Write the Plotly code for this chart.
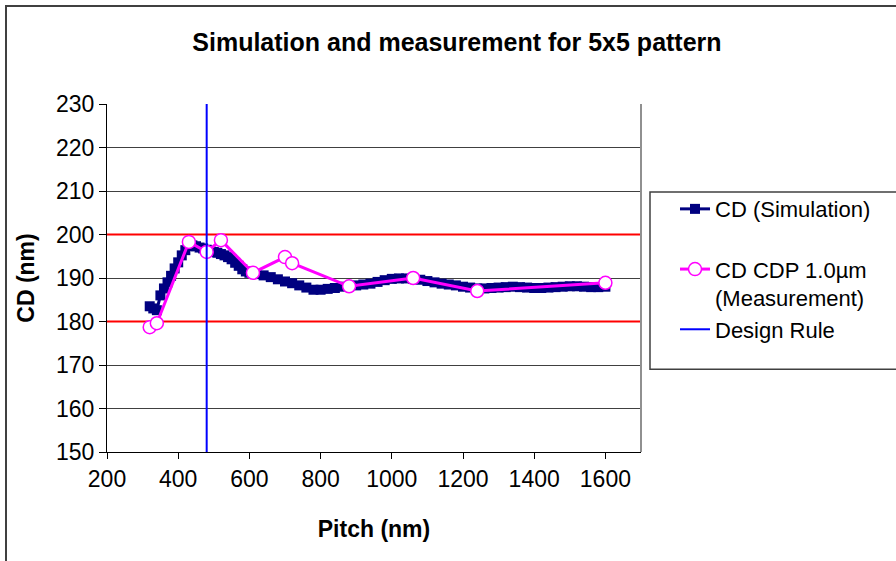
import plotly.graph_objects as go

# ---- data ----
sim_pitch = [320, 330, 340, 350, 360, 370, 380, 390, 400, 410, 420, 430, 440, 450, 460, 470, 480, 490,
             500, 510, 520, 530, 540, 550, 560, 570, 580, 590, 600, 620, 640, 660, 680, 700, 720, 740,
             760, 780, 800, 820, 840, 860, 880, 900, 920, 940, 960, 980, 1000, 1020, 1040, 1060, 1080,
             1100, 1120, 1140, 1160, 1180, 1200, 1220, 1240, 1260, 1280, 1300, 1320, 1340, 1360, 1380,
             1400, 1420, 1440, 1460, 1480, 1500, 1520, 1540, 1560, 1580, 1600]
sim_cd = [183.5, 183.0, 182.6, 186.0, 187.6, 189.0, 190.5, 192.2, 193.6, 195.2, 196.4, 197.3, 197.5,
          197.3, 197.0, 196.8, 196.5, 196.3, 196.0, 195.8, 195.5, 195.2, 194.8, 194.3, 193.5, 192.8,
          192.0, 191.5, 191.2, 190.9, 190.6, 190.2, 189.7, 189.2, 188.8, 188.3, 187.8, 187.3, 187.3,
          187.5, 187.7, 188.0, 188.1, 188.3, 188.5, 188.7, 189.1, 189.5, 189.8, 189.9, 189.9, 189.8,
          189.6, 189.3, 189.0, 188.7, 188.5, 188.3, 188.0, 187.8, 187.6, 187.6, 187.7, 187.8, 187.9,
          188.0, 187.9, 187.8, 187.7, 187.7, 187.8, 187.9, 188.0, 188.1, 188.1, 188.0, 187.9, 187.9,
          188.0]

meas_pitch = [320, 340, 430, 480, 520, 610, 700, 720, 880, 1060, 1240, 1600]
meas_cd = [178.7, 179.6, 198.3, 196.0, 198.7, 191.2, 194.8, 193.4, 188.1, 190.0, 187.0, 188.9]

design_rule_pitch = 480
spec_limits = [180, 200]
y_range = [150, 230]
x_range = [200, 1700]
y_ticks = list(range(150, 231, 10))
x_ticks = list(range(200, 1601, 200))

FONT = "Liberation Sans, Arial, sans-serif"

fig = go.Figure()

# spec limit lines (red)
for lim in spec_limits:
    fig.add_trace(go.Scatter(x=x_range, y=[lim, lim], mode="lines",
                             line=dict(color="#FF0000", width=2), showlegend=False,
                             hoverinfo="skip"))

fig.add_trace(go.Scatter(x=sim_pitch, y=sim_cd, mode="lines+markers",
                         name="CD (Simulation)<br> ",
                         line=dict(color="#000080", width=3),
                         marker=dict(symbol="square", size=10, color="#000080",
                                     line=dict(color="#000080", width=0)),
                         legendgroup="a"))

fig.add_trace(go.Scatter(x=meas_pitch, y=meas_cd, mode="lines+markers",
                         name="CD CDP 1.0µm<br>(Measurement)",
                         line=dict(color="#FF00FF", width=3),
                         marker=dict(symbol="circle", size=13, color="#FFFFFF",
                                     line=dict(color="#FF00FF", width=1.5)),
                         legendgroup="b"))

fig.add_trace(go.Scatter(x=[design_rule_pitch, design_rule_pitch], y=y_range, mode="lines",
                         name="Design Rule", line=dict(color="#0000FF", width=2),
                         legendgroup="c"))

fig.update_layout(
    width=896, height=561, autosize=False,
    margin=dict(l=107, r=255, t=104, b=109),
    paper_bgcolor="white", plot_bgcolor="white",
    font=dict(family=FONT, size=22, color="black"),
    title=dict(text="<b>Simulation and measurement for 5x5 pattern</b>",
               font=dict(family=FONT, size=25, color="black"),
               x=0.51, xref="container", xanchor="center",
               y=1 - 42 / 561, yref="container", yanchor="middle"),
    showlegend=True,
    legend=dict(x=(675 - 107) / 534, y=(451.7 - 188) / 347.7, xanchor="left", yanchor="top",
                borderwidth=0, bgcolor="rgba(0,0,0,0)", valign="top",
                font=dict(family=FONT, size=22, color="black"),
                tracegroupgap=10, traceorder="normal"),
    xaxis=dict(range=x_range, tickmode="array", tickvals=x_ticks,
               showgrid=False, zeroline=False,
               showline=True, linecolor="black", linewidth=1, mirror=False,
               ticks="outside", ticklen=6, tickcolor="black",
               tickfont=dict(family=FONT, size=23),
               title=dict(text="<b>Pitch (nm)</b>", font=dict(family=FONT, size=23), standoff=30)),
    yaxis=dict(range=y_range, tickmode="array", tickvals=y_ticks,
               showgrid=True, gridcolor="#404040", gridwidth=1, zeroline=False,
               showline=True, linecolor="black", linewidth=1,
               ticks="outside", ticklen=7, tickcolor="black",
               tickfont=dict(family=FONT, size=23),
               title=dict(text="<b>CD (nm)</b>", font=dict(family=FONT, size=23), standoff=14)),
)

# plot-area right border, legend box and chart-area border
fig.add_shape(type="line", xref="paper", yref="paper", x0=1, x1=1, y0=0, y1=1,
              line=dict(color="#909090", width=2))
fig.add_shape(type="rect", xref="paper", yref="paper",
              x0=(650 - 107) / 534, x1=1.8,
              y0=(451.7 - 369) / 347.7, y1=(451.7 - 192) / 347.7,
              line=dict(color="#404040", width=1.5), layer="below")
fig.add_shape(type="rect", xref="paper", yref="paper",
              x0=(6 - 107) / 534, x1=1.8, y0=-0.6, y1=(451.7 - 6) / 347.7,
              line=dict(color="#404040", width=2), layer="below")

fig.write_html("out.html")
